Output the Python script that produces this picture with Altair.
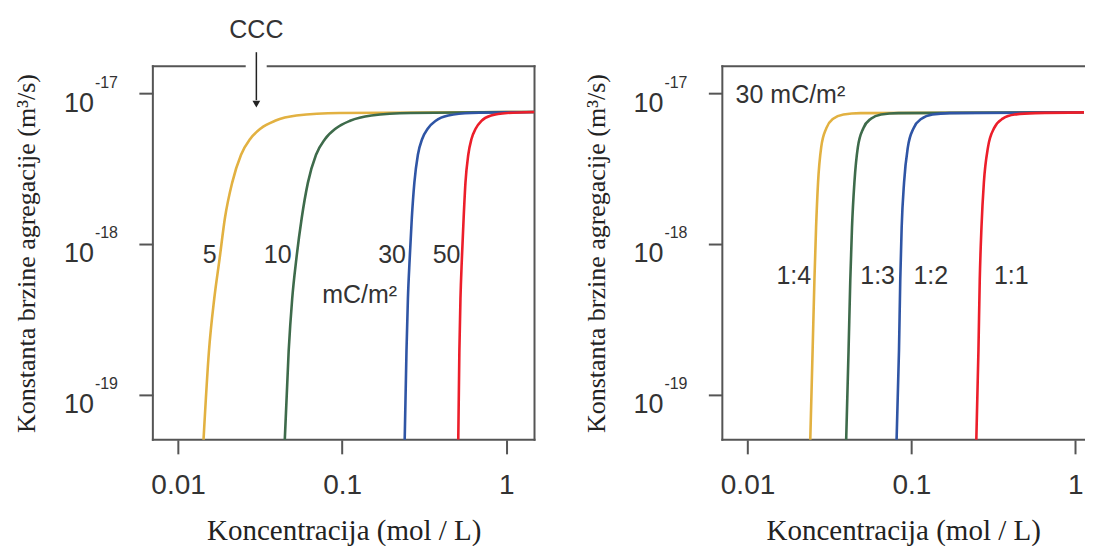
import altair as alt
import pandas as pd

# ---------------- data ----------------
LEFT_X_DOMAIN = [0.00702, 1.487]
RIGHT_X_DOMAIN = [0.00702, 1.13]   # right panel is cut off by the picture edge
Y_DOMAIN = [5.0e-20, 1.52e-17]

series_colors = ["#E2B141", "#3E6B4B", "#2F55A5", "#EC1E2A"]

# Left panel: surface charge density 5, 10, 30, 50 mC/m2
left_names = ["5", "10", "30", "50"]
left_k = [5.0e-20, 1.94e-19, 4.33e-19, 8.0e-19, 1.49e-18, 2.55e-18, 3.92e-18,
          4.99e-18, 5.86e-18, 6.59e-18, 7.14e-18, 7.43e-18, 7.55e-18]
left_c_5 = [0.01429, 0.01542, 0.01661, 0.01791, 0.0193, 0.02135, 0.0242,
            0.0275, 0.0319, 0.039, 0.0526, 0.0962, 1.487]
left_c_10 = [0.0447, 0.0472, 0.0496, 0.0526, 0.0567, 0.0618, 0.0693,
             0.0787, 0.0914, 0.1117, 0.1507, 0.262, 1.487]
left_c_30 = [0.2405, 0.2466, 0.2516, 0.258, 0.2658, 0.2754, 0.2894,
             0.3074, 0.333, 0.3719, 0.4431, 0.614, 1.487]
left_c_50 = [0.510, 0.518, 0.526, 0.5366, 0.55, 0.5641, 0.587,
             0.614, 0.652, 0.7066, 0.809, 1.014, 1.487]

left_label_text = ["5", "10", "30", "50"]
left_label_c = [0.0156, 0.0405, 0.2015, 0.4328]
left_label_k = [8.45e-19, 8.45e-19, 8.45e-19, 8.45e-19]
left_unit_text = ["mC/m²"]
left_unit_c = [0.1278]
left_unit_k = [4.59e-19]
ccc_text = ["CCC"]
ccc_c = [0.0300]
frame_gap_c = [0.02548, 0.03517]

# Right panel: 30 mC/m2, electrolyte type 1:4, 1:3, 1:2, 1:1
right_names = ["1:4", "1:3", "1:2", "1:1"]
right_k = [5.0e-20, 1.98e-19, 5.77e-19, 1.29e-18, 2.57e-18, 4.39e-18,
           5.89e-18, 6.81e-18, 7.26e-18, 7.41e-18, 7.52e-18]
right_c_14 = [0.02415, 0.02496, 0.0256, 0.0262, 0.02694, 0.02815,
              0.03027, 0.0333, 0.0385, 0.0489, 1.487]
right_c_13 = [0.03999, 0.04136, 0.04237, 0.0434, 0.0449, 0.0471,
              0.0509, 0.0566, 0.0653, 0.0832, 1.487]
right_c_12 = [0.0812, 0.0840, 0.0855, 0.0872, 0.0902, 0.0951,
              0.1031, 0.1153, 0.1345, 0.1711, 1.487]
right_c_11 = [0.2489, 0.2565, 0.2612, 0.2676, 0.2768, 0.2932,
              0.3195, 0.3607, 0.4268, 0.5698, 1.487]

right_label_text = ["1:4", "1:3", "1:2", "1:1"]
right_label_c = [0.01915, 0.0622, 0.1313, 0.4067]
right_label_k = [6.09e-19, 6.09e-19, 6.09e-19, 6.09e-19]
right_title_text = ["30 mC/m²"]
right_title_c = [0.00846]
right_title_k = [9.8e-18]

x_tick_values = [0.01, 0.1, 1]
y_tick_values = [1e-19, 1e-18, 1e-17]
y_tick_exponents = ["-19", "-18", "-17"]

X_TITLE = "Koncentracija (mol / L)"
Y_TITLE = "Konstanta brzine agregacije (m³/s)"

TEXT = "#333333"
FRAME = "#555555"
SANS = "Liberation Sans"
SERIF = "Liberation Serif"

# ---------------- helpers ----------------
def long_df(names, c_lists, k):
    rows = []
    for order, (n, cs) in enumerate(zip(names, c_lists)):
        for c, kk in zip(cs, k):
            rows.append({"series": n, "order": order, "c": c, "k": kk})
    return pd.DataFrame(rows)


def enc_x(domain):
    return alt.X("c:Q",
                 scale=alt.Scale(type="log", domain=domain, nice=False),
                 axis=alt.Axis(values=x_tick_values, format="~g", title=X_TITLE,
                               domain=False, grid=False, tickSize=14, tickWidth=2,
                               tickColor=FRAME, labelFont=SANS, labelFontSize=28,
                               labelColor=TEXT, labelPadding=18, labelFlush=False,
                               titleFont=SERIF, titleFontSize=29,
                               titleFontWeight="normal", titleColor="#222222",
                               titlePadding=17))


def enc_y():
    return alt.Y("k:Q",
                 scale=alt.Scale(type="log", domain=Y_DOMAIN, nice=False),
                 axis=alt.Axis(values=y_tick_values, labels=False, title=Y_TITLE,
                               domain=False, grid=False, tickSize=14, tickWidth=2,
                               tickColor=FRAME, titleFont=SERIF, titleFontSize=26,
                               titleFontWeight="normal", titleColor="#222222",
                               titleX=-126, titleBaseline="middle"))


def frame_df(domain, gap=None, right_side=True):
    x0, x1 = domain
    y0, y1 = Y_DOMAIN
    segs = [
        {"c": x0, "c2": x0, "k": y0, "k2": y1},
        {"c": x0, "c2": x1, "k": y0, "k2": y0},
    ]
    if right_side:
        segs.append({"c": x1, "c2": x1, "k": y0, "k2": y1})
    if gap is None:
        segs.append({"c": x0, "c2": x1, "k": y1, "k2": y1})
    else:
        segs.append({"c": x0, "c2": gap[0], "k": y1, "k2": y1})
        segs.append({"c": gap[1], "c2": x1, "k": y1, "k2": y1})
    return pd.DataFrame(segs)


def panel(domain, width, names, c_lists, k, lab_text, lab_c, lab_k, extra,
          gap=None, right_side=True):
    df = long_df(names, c_lists, k)
    base_x, base_y = enc_x(domain), enc_y()

    frame = alt.Chart(frame_df(domain, gap, right_side)).mark_rule(
        color=FRAME, strokeWidth=2, strokeCap="square").encode(
        x=base_x, x2="c2:Q", y=base_y, y2="k2:Q")

    lines = alt.Chart(df).mark_line(strokeWidth=2.6, interpolate="monotone",
                                    clip=True).encode(
        x=base_x, y=base_y,
        color=alt.Color("series:N", scale=alt.Scale(domain=names, range=series_colors),
                        legend=None),
        order="order:Q",
        detail="series:N")

    labels = alt.Chart(pd.DataFrame({"t": lab_text, "c": lab_c, "k": lab_k})).mark_text(
        font=SANS, fontSize=25, color=TEXT, align="center", baseline="middle").encode(
        x=base_x, y=base_y, text="t:N")

    ylab_df = pd.DataFrame({"k": y_tick_values, "e": y_tick_exponents,
                            "b": ["10"] * len(y_tick_values)})
    ten = alt.Chart(ylab_df).mark_text(
        font=SANS, fontSize=27, color=TEXT, align="right", baseline="middle",
        dy=10).encode(x=alt.value(-59), y=base_y, text="b:N")
    expo = alt.Chart(ylab_df).mark_text(
        font=SANS, fontSize=16, color=TEXT, align="left", baseline="middle",
        dy=-11).encode(x=alt.value(-58), y=base_y, text="e:N")

    layers = [frame, lines, labels, ten, expo] + [e(base_x, base_y) for e in extra]
    return alt.layer(*layers).properties(width=width, height=374)


# extras for left panel: CCC arrow and text, unit label
ccc_df = pd.DataFrame({"t": ccc_text, "c": ccc_c})


def ccc_label(bx, by):
    return alt.Chart(ccc_df).mark_text(
        font=SANS, fontSize=25, color=TEXT, align="center", baseline="middle").encode(
        x=bx, y=alt.value(-36), text="t:N")


def ccc_line(bx, by):
    return alt.Chart(ccc_df).mark_rule(color="#222222", strokeWidth=1.5).encode(
        x=bx, y=alt.value(-14), y2=alt.value(34))


def ccc_head(bx, by):
    return alt.Chart(ccc_df).mark_point(
        shape="triangle-down", filled=True, size=60, color="#222222",
        opacity=1).encode(x=bx, y=alt.value(38))


def unit_left(bx, by):
    return alt.Chart(pd.DataFrame({"t": left_unit_text, "c": left_unit_c,
                                   "k": left_unit_k})).mark_text(
        font=SANS, fontSize=25, color=TEXT, align="center", baseline="middle").encode(
        x=bx, y=by, text="t:N")


def right_title(bx, by):
    return alt.Chart(pd.DataFrame({"t": right_title_text, "c": right_title_c,
                                   "k": right_title_k})).mark_text(
        font=SANS, fontSize=25, color=TEXT, align="left", baseline="middle").encode(
        x=bx, y=by, text="t:N")


left = panel(LEFT_X_DOMAIN, 382, left_names,
             [left_c_5, left_c_10, left_c_30, left_c_50], left_k,
             left_label_text, left_label_c, left_label_k,
             [unit_left, ccc_line, ccc_head, ccc_label], gap=frame_gap_c)
right = panel(RIGHT_X_DOMAIN, 362, right_names,
              [right_c_14, right_c_13, right_c_12, right_c_11], right_k,
              right_label_text, right_label_c, right_label_k, [right_title],
              right_side=False)

chart = alt.hconcat(left, right, spacing=46).properties(
    padding={"left": 5, "top": 10, "right": 0, "bottom": 0},
    background="white"
).configure_view(stroke=None).configure_concat(spacing=46)

chart.save("out.html", embed_options={"renderer": "svg", "actions": False})
